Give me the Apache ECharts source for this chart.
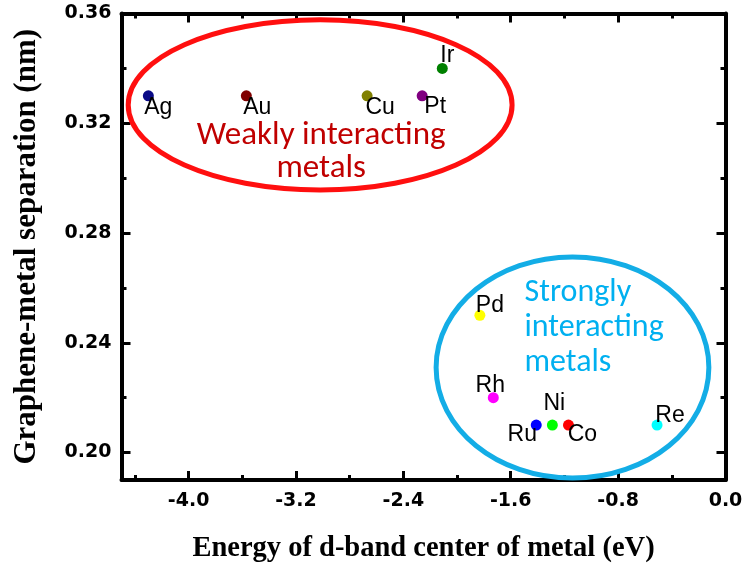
<!DOCTYPE html>
<html>
<head>
<meta charset="utf-8">
<script src="https://cdn.jsdelivr.net/npm/echarts@6/dist/echarts.min.js"></script>
<style>
  html, body { margin: 0; padding: 0; background: #fff; }
  #chart { width: 744px; height: 564px; }
</style>
</head>
<body>
<div id="chart"></div>
<script>
// Metals, their d-band centre energies (eV) and graphene-metal separations (nm)
const metals      = ['Ag', 'Au', 'Cu', 'Pt', 'Ir', 'Pd', 'Rh', 'Ru', 'Ni', 'Co', 'Re'];
const dBandCenter = [-4.30, -3.57, -2.67, -2.26, -2.11, -1.83, -1.73, -1.41, -1.29, -1.17, -0.51];
const separation  = [0.330, 0.330, 0.330, 0.330, 0.340, 0.250, 0.220, 0.210, 0.210, 0.210, 0.210];

// Axis ticks
const xTickValues  = [-4.0, -3.2, -2.4, -1.6, -0.8, 0.0];
const xMinorTicks  = [-4.4, -3.6, -2.8, -2.0, -1.2, -0.4];
const yTickValues  = [0.20, 0.24, 0.28, 0.32, 0.36];
const yMinorTicks  = [0.22, 0.26, 0.30, 0.34];

// Marker colours per metal
const metalColors = {
  Ag: '#0a0a86', Au: '#800000', Cu: '#808000', Pt: '#800080', Ir: '#008000',
  Pd: '#ffff00', Rh: '#ff00ff', Ru: '#0000ff', Ni: '#00ff00', Co: '#ff0000', Re: '#00ffff'
};

// Label placement around each marker (pixels)
const labelOffset = {
  Ag: [10, 12], Au: [11, 12], Cu: [13, 12], Pt: [13, 11], Ir: [5, -13],
  Pd: [10, -10], Rh: [-3, -12], Ru: [-14, 10], Ni: [2, -21], Co: [14, 10], Re: [13, -9]
};

// Regions grouping the metals (centre and half-axes in data units)
const weakRegion   = { cx: -3.02, cy: 0.3267, rx: 1.43, ry: 0.0310 };
const strongRegion = { cx: -1.14, cy: 0.231,  rx: 1.016, ry: 0.0403 };

const chart = echarts.init(document.getElementById('chart'), null, { renderer: 'canvas' });

const tickFont = { fontFamily: 'DejaVu Sans', fontWeight: 'bold', fontSize: 19, color: '#000' };
const titleFont = { fontFamily: 'Liberation Serif, Times New Roman, serif', fontWeight: 'bold', color: '#000' };
const blackLine = { color: '#000', width: 4 };

function xAxisDef(position, ticks, len, withLine, withLabels) {
  return {
    type: 'value', position: position, min: -4.5, max: 0,
    axisLine: { show: withLine, onZero: false, lineStyle: blackLine },
    axisTick: { show: true, inside: true, length: len, customValues: ticks,
                lineStyle: { color: '#000', width: 3 } },
    axisLabel: withLabels ? Object.assign({ show: true, margin: 12, customValues: xTickValues,
                formatter: v => Number(v).toFixed(1) }, tickFont) : { show: false },
    splitLine: { show: false }
  };
}
function yAxisDef(position, ticks, len, withLine, withLabels) {
  return {
    type: 'value', position: position, min: 0.19, max: 0.36,
    axisLine: { show: withLine, onZero: false, lineStyle: blackLine },
    axisTick: { show: true, inside: true, length: len, customValues: ticks,
                lineStyle: { color: '#000', width: 3 } },
    axisLabel: withLabels ? Object.assign({ show: true, margin: 10, customValues: yTickValues,
                formatter: v => Number(v).toFixed(2) }, tickFont) : { show: false },
    splitLine: { show: false }
  };
}

const xAxes = [
  xAxisDef('bottom', xTickValues, 9, true, true),
  xAxisDef('bottom', xMinorTicks, 5, false, false),
  xAxisDef('top', xTickValues, 9, true, false),
  xAxisDef('top', xMinorTicks, 5, false, false)
];
Object.assign(xAxes[0], {
  name: 'Energy of d-band center of metal (eV)', nameLocation: 'middle', nameGap: 54,
  nameTextStyle: Object.assign({ fontSize: 28.5 }, titleFont)
});
const yAxes = [
  yAxisDef('left', yTickValues, 9, true, true),
  yAxisDef('left', yMinorTicks, 5, false, false),
  yAxisDef('right', yTickValues, 9, true, false),
  yAxisDef('right', yMinorTicks, 5, false, false)
];
Object.assign(yAxes[0], {
  name: 'Graphene-metal separation (nm)', nameLocation: 'middle', nameGap: 79,
  nameTextStyle: Object.assign({ fontSize: 31 }, titleFont)
});

const points = metals.map((m, i) => ({
  name: m,
  value: [dBandCenter[i], separation[i]],
  itemStyle: { color: metalColors[m], opacity: 1 },
  label: { offset: labelOffset[m] }
}));

function regionRenderer(region, color, textColor, caption, align, textDx, textDy, fontSize, lineHeight) {
  return function (params, api) {
    const c = api.coord([region.cx, region.cy]);
    const s = api.size([region.rx, region.ry]);
    return {
      type: 'group',
      children: [
        { type: 'ellipse', shape: { cx: c[0], cy: c[1], rx: s[0], ry: s[1] },
          style: { fill: 'none', stroke: color, lineWidth: 5 } },
        { type: 'text', x: c[0] + textDx, y: c[1] + textDy,
          style: { text: caption, fill: textColor, align: align, verticalAlign: 'top',
                   font: fontSize + 'px Carlito, Lato, sans-serif', lineHeight: lineHeight } }
      ]
    };
  };
}

chart.setOption({
  animation: false,
  backgroundColor: '#fff',
  grid: { left: 121.5, right: 18.5, top: 13.5, bottom: 84, containLabel: false, outerBoundsMode: 'none' },
  xAxis: xAxes,
  yAxis: yAxes,
  series: [
    {
      type: 'custom', xAxisIndex: 0, yAxisIndex: 0, z: 1, silent: true,
      data: [[weakRegion.cx, weakRegion.cy]],
      renderItem: regionRenderer(weakRegion, '#ff0f0f', '#c00000',
        'Weakly interacting\nmetals', 'center', 1, 14, 33, 33)
    },
    {
      type: 'custom', xAxisIndex: 0, yAxisIndex: 0, z: 1, silent: true,
      data: [[strongRegion.cx, strongRegion.cy]],
      renderItem: regionRenderer(strongRegion, '#13ade6', '#00b0f0',
        'Strongly\ninteracting\nmetals', 'left', -48, -91.5, 32, 35)
    },
    {
      type: 'scatter', xAxisIndex: 0, yAxisIndex: 0, z: 3,
      symbol: 'circle', symbolSize: 11,
      itemStyle: { opacity: 1 },
      data: points,
      label: {
        show: true, position: 'inside', formatter: '{b}',
        fontFamily: 'Liberation Sans, Arial, sans-serif', fontSize: 23, color: '#000'
      }
    }
  ]
});
</script>
</body>
</html>
